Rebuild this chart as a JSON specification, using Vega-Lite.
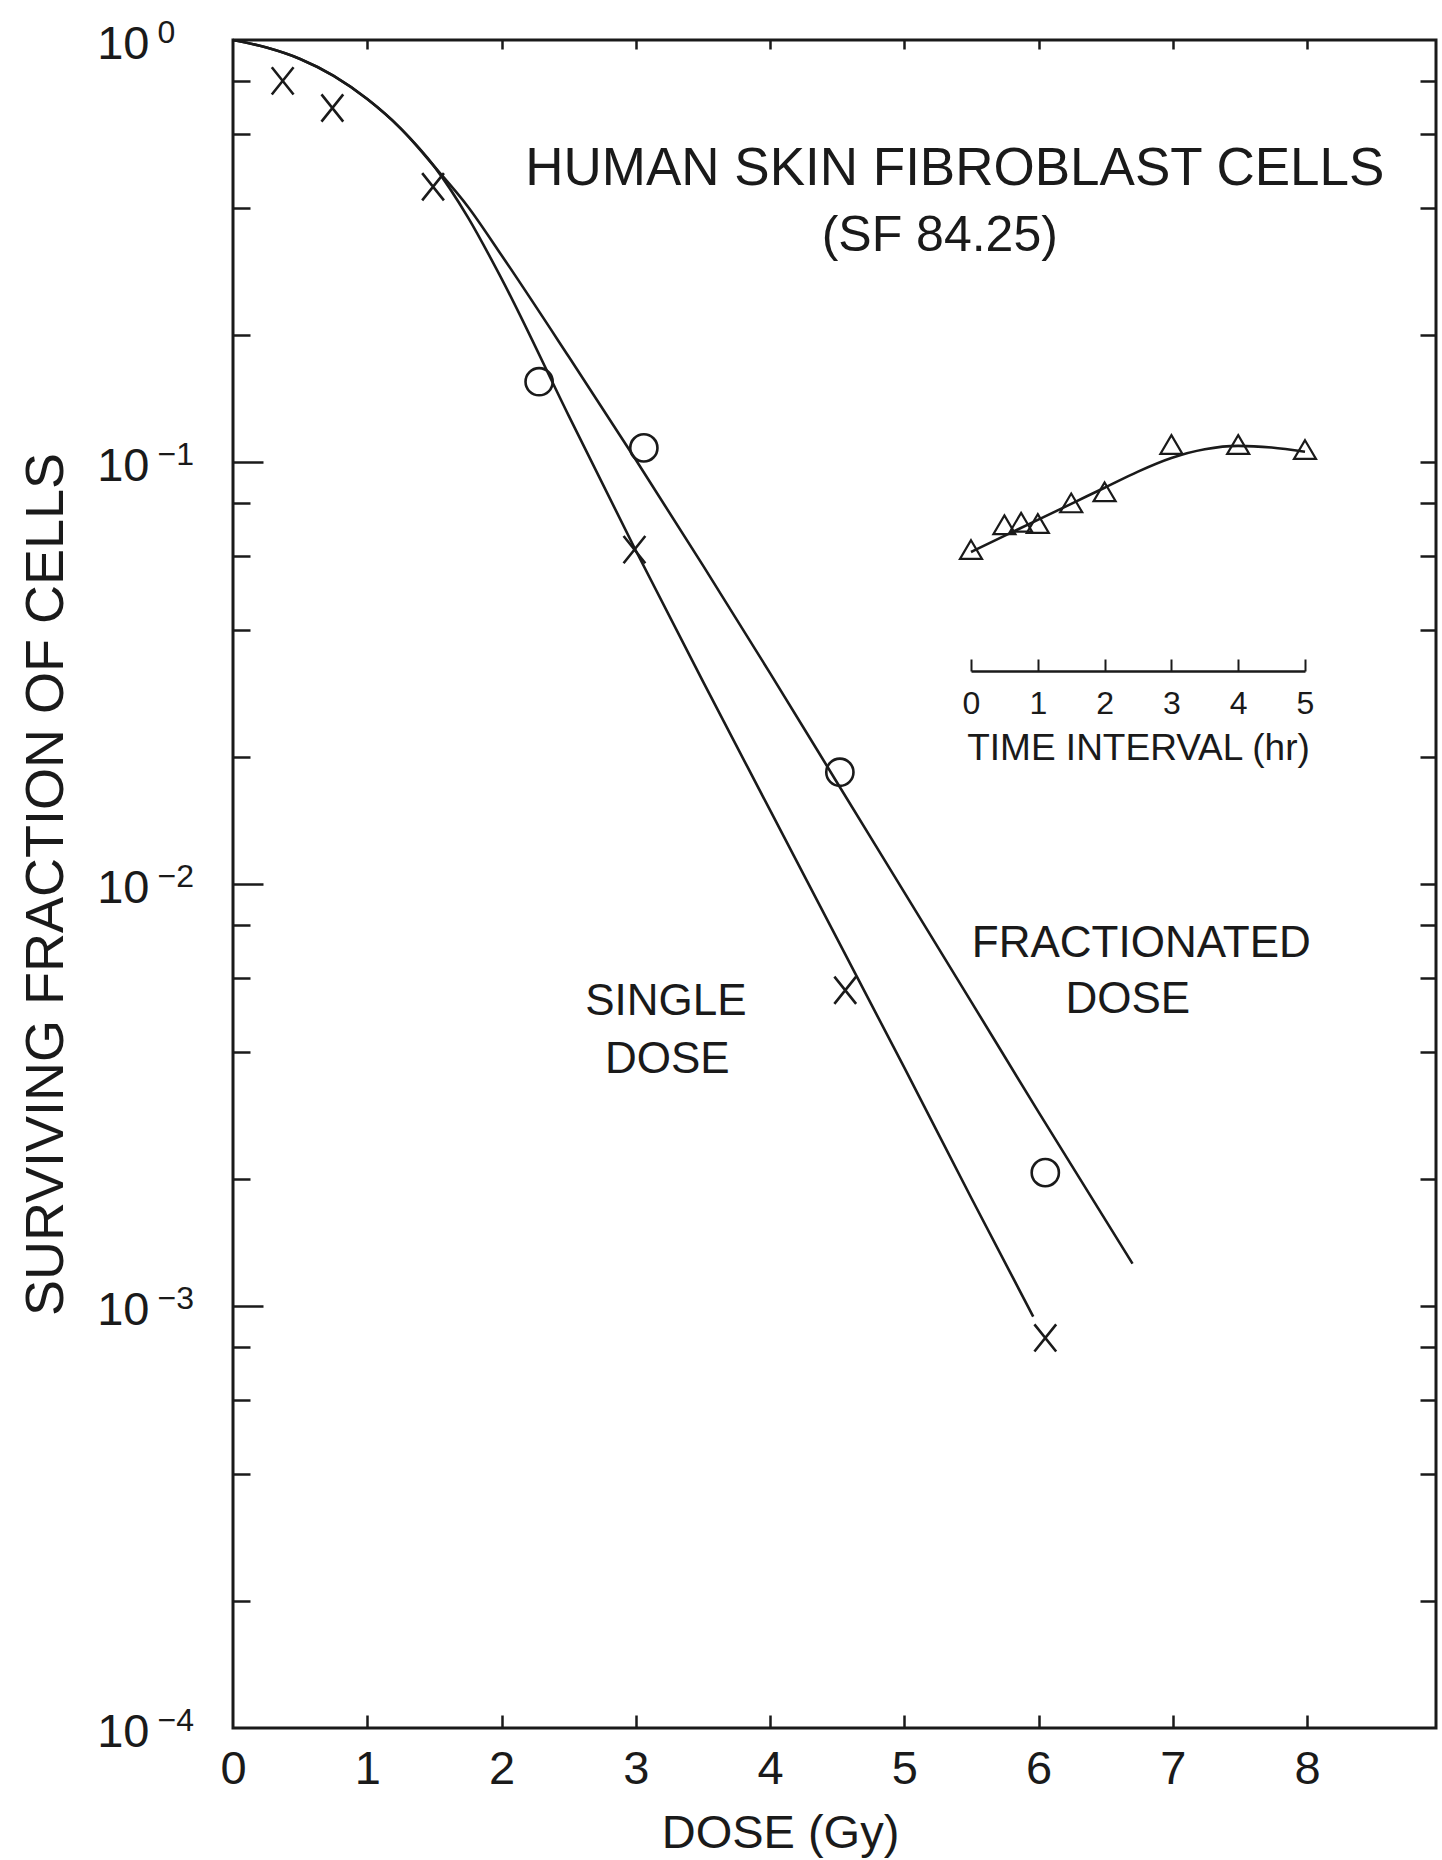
{
  "$schema": "https://vega.github.io/schema/vega-lite/v6.json",
  "width": 1203,
  "height": 1688,
  "autosize": {"type": "none"},
  "padding": {"left": 233, "top": 40, "right": 6, "bottom": 132},
  "background": "white",
  "config": {
    "view": {"stroke": "#1a1a1a", "strokeWidth": 3},
    "font": "Liberation Sans, Arial, Helvetica, sans-serif",
    "axis": {
      "grid": false,
      "labelFlush": false,
      "labelOverlap": false,
      "labelColor": "#1a1a1a",
      "titleColor": "#1a1a1a",
      "tickColor": "#1a1a1a",
      "domainColor": "#1a1a1a",
      "tickWidth": 2.5,
      "labelFont": "Liberation Sans, Arial, sans-serif",
      "titleFont": "Liberation Sans, Arial, sans-serif",
      "titleFontWeight": "normal"
    },
    "text": {"font": "Liberation Sans, Arial, sans-serif", "color": "#1a1a1a"}
  },
  "datasets": {
    "curves": [
      {"series": "single", "dose": 0, "sf": 1},
      {"series": "single", "dose": 0.25, "sf": 0.9594},
      {"series": "single", "dose": 0.5, "sf": 0.9016},
      {"series": "single", "dose": 0.75, "sf": 0.8222},
      {"series": "single", "dose": 1.0, "sf": 0.7244},
      {"series": "single", "dose": 1.25, "sf": 0.6166},
      {"series": "single", "dose": 1.5, "sf": 0.5012},
      {"series": "single", "dose": 1.75, "sf": 0.38},
      {"series": "single", "dose": 2.0, "sf": 0.272},
      {"series": "single", "dose": 2.5, "sf": 0.1288},
      {"series": "single", "dose": 3.0, "sf": 0.0617},
      {"series": "single", "dose": 3.5, "sf": 0.0302},
      {"series": "single", "dose": 4.0, "sf": 0.01496},
      {"series": "single", "dose": 4.5, "sf": 0.00741},
      {"series": "single", "dose": 5.0, "sf": 0.00367},
      {"series": "single", "dose": 5.5, "sf": 0.0018},
      {"series": "single", "dose": 5.96, "sf": 0.000944},
      {"series": "fractionated", "dose": 0, "sf": 1},
      {"series": "fractionated", "dose": 0.25, "sf": 0.9594},
      {"series": "fractionated", "dose": 0.5, "sf": 0.9016},
      {"series": "fractionated", "dose": 0.75, "sf": 0.8222},
      {"series": "fractionated", "dose": 1.0, "sf": 0.7244},
      {"series": "fractionated", "dose": 1.25, "sf": 0.6166},
      {"series": "fractionated", "dose": 1.5, "sf": 0.5012},
      {"series": "fractionated", "dose": 1.75, "sf": 0.4027},
      {"series": "fractionated", "dose": 2.0, "sf": 0.309},
      {"series": "fractionated", "dose": 2.5, "sf": 0.1778},
      {"series": "fractionated", "dose": 3.0, "sf": 0.1012},
      {"series": "fractionated", "dose": 3.5, "sf": 0.0569},
      {"series": "fractionated", "dose": 4.0, "sf": 0.0316},
      {"series": "fractionated", "dose": 4.5, "sf": 0.01738},
      {"series": "fractionated", "dose": 5.0, "sf": 0.00955},
      {"series": "fractionated", "dose": 5.5, "sf": 0.00525},
      {"series": "fractionated", "dose": 6.0, "sf": 0.00288},
      {"series": "fractionated", "dose": 6.7, "sf": 0.00126}
    ],
    "points": [
      {"series": "single", "dose": 0.37, "sf": 0.8},
      {"series": "single", "dose": 0.74, "sf": 0.69},
      {"series": "single", "dose": 1.49, "sf": 0.449},
      {"series": "single", "dose": 2.99, "sf": 0.062},
      {"series": "single", "dose": 4.56, "sf": 0.0056},
      {"series": "single", "dose": 6.05, "sf": 0.00084},
      {"series": "fractionated", "dose": 2.28, "sf": 0.155},
      {"series": "fractionated", "dose": 3.06, "sf": 0.108},
      {"series": "fractionated", "dose": 4.52, "sf": 0.0184},
      {"series": "fractionated", "dose": 6.05, "sf": 0.00207}
    ],
    "inset_points": [
      {"hours": 0, "sf": 0.062},
      {"hours": 0.5, "sf": 0.071},
      {"hours": 0.75, "sf": 0.072},
      {"hours": 1, "sf": 0.0715},
      {"hours": 1.5, "sf": 0.08},
      {"hours": 2, "sf": 0.085},
      {"hours": 3, "sf": 0.11},
      {"hours": 4, "sf": 0.11},
      {"hours": 5, "sf": 0.107}
    ],
    "inset_curve": [
      {"hours": 0, "sf": 0.0612},
      {"hours": 0.5, "sf": 0.0668},
      {"hours": 1, "sf": 0.0729},
      {"hours": 1.5, "sf": 0.0796},
      {"hours": 2, "sf": 0.0869},
      {"hours": 2.5, "sf": 0.0949},
      {"hours": 3, "sf": 0.1022},
      {"hours": 3.5, "sf": 0.1072},
      {"hours": 4, "sf": 0.1092},
      {"hours": 4.5, "sf": 0.1082},
      {"hours": 5, "sf": 0.1057}
    ],
    "title_text": [
      {"label": "HUMAN SKIN FIBROBLAST CELLS", "dose": 5.376, "sf": 0.4533}
    ],
    "sf_text": [
      {"label": "(SF 84.25)", "dose": 5.264, "sf": 0.316}
    ],
    "dose_text": [
      {"label": "SINGLE", "dose": 3.224, "sf": 0.004893},
      {"label": "DOSE", "dose": 3.235, "sf": 0.003565},
      {"label": "FRACTIONATED", "dose": 6.765, "sf": 0.006714},
      {"label": "DOSE", "dose": 6.664, "sf": 0.004946}
    ]
  },
  "layer": [
    {
      "encoding": {
        "x": {
          "field": "dose", "type": "quantitative",
          "scale": {"domain": [0, 8.96], "nice": false, "zero": false},
          "axis": {
            "orient": "bottom", "values": [0, 1, 2, 3, 4, 5, 6, 7, 8],
            "ticks": false, "domain": false,
            "labelFontSize": 47, "labelBaseline": "alphabetic", "labelAlign": "center", "labelPadding": 55,
            "title": "DOSE (Gy)", "titleFontSize": 47, "titleX": 547, "titleY": 119,
            "titleBaseline": "alphabetic", "titleAlign": "center"
          }
        },
        "y": {
          "field": "sf", "type": "quantitative",
          "scale": {"type": "log", "domain": [0.0001, 1], "nice": false},
          "axis": {
            "orient": "left", "values": [1, 0.1, 0.01, 0.001, 0.0001],
            "ticks": false, "domain": false,
            "labelExpr": "'10'", "labelFontSize": 47, "labelAlign": "right", "labelBaseline": "alphabetic",
            "labelPadding": 84, "labelOffset": 18,
            "title": "SURVIVING FRACTION OF CELLS", "titleFontSize": 54, "titleAngle": -90,
            "titleX": -171, "titleY": 844, "titleAlign": "center", "titleBaseline": "alphabetic"
          }
        }
      },
      "layer": [
        {
          "data": {"name": "curves"},
          "mark": {"type": "line", "interpolate": "monotone", "color": "#1a1a1a", "strokeWidth": 2.6},
          "encoding": {"detail": {"field": "series"}}
        },
        {
          "data": {"name": "points"},
          "mark": {"type": "point", "filled": false, "color": "#1a1a1a", "strokeWidth": 2.6, "size": 740, "opacity": 1},
          "encoding": {
            "shape": {
              "field": "series", "type": "nominal",
              "scale": {"domain": ["single", "fractionated"], "range": ["M-0.8,-1L0.8,1M-0.8,1L0.8,-1", "circle"]},
              "legend": null
            }
          }
        },
        {
          "data": {"name": "title_text"},
          "mark": {"type": "text", "fontSize": 53, "align": "center", "baseline": "alphabetic"},
          "encoding": {"text": {"field": "label"}}
        },
        {
          "data": {"name": "sf_text"},
          "mark": {"type": "text", "fontSize": 50, "align": "center", "baseline": "alphabetic"},
          "encoding": {"text": {"field": "label"}}
        },
        {
          "data": {"name": "dose_text"},
          "mark": {"type": "text", "fontSize": 44, "align": "center", "baseline": "alphabetic"},
          "encoding": {"text": {"field": "label"}}
        }
      ]
    },
    {
      "encoding": {
        "x": {
          "field": "hours", "type": "quantitative",
          "scale": {"domain": [0, 5], "range": [738, 1072], "nice": false, "zero": false},
          "axis": {
            "orient": "bottom", "offset": -1057, "values": [0, 1, 2, 3, 4, 5],
            "domain": true, "domainWidth": 2.5, "tickSize": -12, "tickWidth": 2,
            "labelFontSize": 32, "labelBaseline": "alphabetic", "labelAlign": "center", "labelPadding": 54,
            "title": "TIME INTERVAL (hr)", "titleFontSize": 37, "titleX": 905, "titleY": 88,
            "titleBaseline": "alphabetic", "titleAlign": "center"
          }
        },
        "y": {
          "field": "sf", "type": "quantitative",
          "scale": {"type": "log", "domain": [0.0001, 1], "nice": false},
          "axis": {
            "orient": "left", "values": [1, 0.1, 0.01, 0.001, 0.0001],
            "ticks": false, "domain": false,
            "labelExpr": "datum.value > 0.5 ? '0' : '−' + format(round(-log(datum.value) / LN10), 'd')",
            "labelFontSize": 32, "labelAlign": "left", "labelBaseline": "alphabetic",
            "labelPadding": 76, "labelOffset": 2, "title": null
          }
        }
      },
      "layer": [
        {
          "data": {"name": "inset_curve"},
          "mark": {"type": "line", "interpolate": "monotone", "color": "#1a1a1a", "strokeWidth": 2.6}
        },
        {
          "data": {"name": "inset_points"},
          "mark": {"type": "point", "shape": "M0,-0.85L1,0.85L-1,0.85Z", "size": 484, "filled": false, "color": "#1a1a1a", "strokeWidth": 2.2, "opacity": 1}
        }
      ]
    },
    {
      "data": {"name": "points"},
      "mark": {"type": "point", "opacity": 0},
      "encoding": {
        "x": {
          "field": "dose", "type": "quantitative",
          "scale": {"domain": [0, 8.96], "nice": false, "zero": false},
          "axis": {"orient": "top", "values": [1, 2, 3, 4, 5, 6, 7, 8], "labels": false, "domain": false, "tickSize": -9, "title": null}
        },
        "y": {
          "field": "sf", "type": "quantitative",
          "scale": {"type": "log", "domain": [0.0001, 1], "nice": false},
          "axis": {
            "orient": "right",
            "values": [0.8, 0.6, 0.4, 0.2, 0.1, 0.08, 0.06, 0.04, 0.02, 0.01, 0.008, 0.006, 0.004, 0.002, 0.001, 0.0008, 0.0006, 0.0004, 0.0002],
            "labels": false, "domain": false, "tickSize": -16, "title": null
          }
        }
      }
    },
    {
      "data": {"name": "points"},
      "mark": {"type": "point", "opacity": 0},
      "encoding": {
        "x": {
          "field": "dose", "type": "quantitative",
          "scale": {"domain": [0, 8.96], "nice": false, "zero": false},
          "axis": {"orient": "bottom", "values": [1, 2, 3, 4, 5, 6, 7, 8], "labels": false, "domain": false, "tickSize": -13, "title": null}
        },
        "y": {
          "field": "sf", "type": "quantitative",
          "scale": {"type": "log", "domain": [0.0001, 1], "nice": false},
          "axis": {
            "orient": "left",
            "values": [0.8, 0.6, 0.4, 0.2, 0.08, 0.06, 0.04, 0.02, 0.008, 0.006, 0.004, 0.002, 0.0008, 0.0006, 0.0004, 0.0002],
            "labels": false, "domain": false, "tickSize": -17, "title": null
          }
        }
      }
    },
    {
      "data": {"name": "points"},
      "mark": {"type": "point", "opacity": 0},
      "encoding": {
        "x": {
          "field": "dose", "type": "quantitative",
          "scale": {"domain": [0, 8.96], "nice": false, "zero": false},
          "axis": null
        },
        "y": {
          "field": "sf", "type": "quantitative",
          "scale": {"type": "log", "domain": [0.0001, 1], "nice": false},
          "axis": {
            "orient": "left",
            "values": [0.1, 0.01, 0.001],
            "labels": false, "domain": false, "tickSize": -30, "title": null
          }
        }
      }
    }
  ],
  "resolve": {
    "scale": {"x": "independent"},
    "axis": {"x": "independent", "y": "independent"}
  }
}
